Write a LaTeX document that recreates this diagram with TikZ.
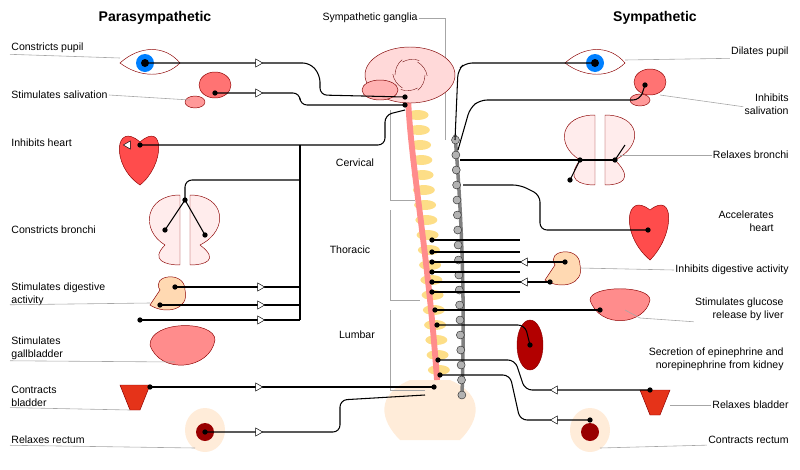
\documentclass[tikz,border=0pt]{standalone}
\usepackage{fontspec}
\setmainfont{Liberation Sans}
\usetikzlibrary{positioning,shapes.geometric,calc}
\tikzset{
	nerve/.style={draw=black,line width=0.9pt,rounded corners=6pt},
	lead/.style={draw=gray!70,line width=0.5pt},
	gang/.style={isosceles triangle,draw=black,fill=white,inner sep=0pt,minimum height=6pt,minimum width=6pt,isosceles triangle apex angle=60},
	dot/.style={circle,fill=black,inner sep=1.6pt},
	lbl/.style={font=\small,inner sep=1pt},
	organ/.style={draw=red!55!black,line width=0.4pt},
	head/.style={font=\large\bfseries}}
\begin{document}
\begin{tikzpicture}[x=0.03cm,y=-0.03cm]
	\useasboundingbox (0,0) rectangle (800,470);
	% headings
	\node[head] (hp) at (155,18) {Parasympathetic};
	\node[head] (hs) at (655,18) {Sympathetic};
	\node[lbl] (sg) at (370,18) {Sympathetic ganglia};
	\draw[lead] (sg.east) -- (445,18) -- (445,140);
	% brain, cord, vertebrae, pelvis
	\fill[orange!15] (400,440) .. controls (380,420) and (375,395) .. (410,380) -- (450,380) .. controls (485,395) and (480,420) .. (460,440) -- cycle;
	\foreach \y in {115,130,...,375}
		\fill[yellow!50!orange!45] ($(408,\y)+(\y/12,0)$) ellipse (11 and 5);
	\draw[red!45,line width=5pt] (408,95) .. controls (410,160) and (428,250) .. (437,380);
	\fill[pink!60,draw=red!50!black] (410,75) ellipse (45 and 28);
	\foreach \a in {0,60,...,300}
		\draw[red!40!black,line width=0.3pt] (410,75) ++(\a:15) arc (\a:\a+50:20);
	\fill[red!30,draw=red!50!black] (380,90) ellipse (18 and 10);
	% ganglia chain
	\draw[gray,line width=3pt] (455,135) .. controls (462,220) and (465,300) .. (462,395);
	\foreach \y in {140,155,...,395}
		\fill[gray!60,draw=gray!40!black] ($(455,\y)+(\y/40-3,0)$) circle (4);
	\node[lbl] (cerv) at (355,163) {Cervical};
	\node[lbl] (thor) at (350,250) {Thoracic};
	\node[lbl] (lumb) at (357,335) {Lumbar};
	\draw[lead] (390,110) -- (390,200) -- (415,200);
	\draw[lead] (390,210) -- (390,300) -- (420,300);
	\draw[lead] (390,310) -- (390,390) -- (425,390);
	% organs left
	\draw[organ,fill=white] (120,63) .. controls (140,45) and (165,45) .. (180,63) .. controls (165,78) and (140,78) .. cycle;
	\fill[blue!50!cyan] (145,63) circle (9); \fill[black] (145,63) circle (4);
	\fill[red!55,organ] (215,85) ellipse (16 and 13);
	\fill[red!40,organ] (195,102) ellipse (10 and 6);
	\fill[red!70,organ] (140,142) .. controls (115,120) and (110,165) .. (140,185) .. controls (165,165) and (165,120) .. (140,142);
	\fill[pink!30,organ] (165,245) .. controls (140,230) and (145,195) .. (180,195) -- (180,265) .. controls (165,265) and (150,260) .. (165,245);
	\fill[pink!30,organ] (200,245) .. controls (230,230) and (225,195) .. (190,195) -- (190,265) .. controls (205,265) and (220,260) .. (200,245);
	\fill[orange!30,organ] (160,290) .. controls (150,275) and (185,270) .. (185,290) .. controls (190,310) and (165,315) .. (150,305) -- cycle;
	\fill[red!45,organ] (150,345) .. controls (150,320) and (215,320) .. (215,340) .. controls (210,370) and (160,375) .. cycle;
	\fill[red!60!brown,organ] (120,385) -- (150,385) -- (140,410) -- (130,410) -- cycle;
	\fill[orange!15] (205,430) ellipse (20 and 22);
	\fill[red!60!black] (205,432) circle (9);
	% organs right
	\draw[organ,fill=white] (565,63) .. controls (585,45) and (610,45) .. (625,63) .. controls (610,78) and (585,78) .. cycle;
	\fill[blue!50!cyan] (595,63) circle (9); \fill[black] (595,63) circle (4);
	\fill[red!55,organ] (650,82) ellipse (16 and 13);
	\fill[red!40,organ] (640,100) ellipse (10 and 6);
	\fill[pink!30,organ] (580,160) .. controls (555,145) and (560,115) .. (595,115) -- (595,185) .. controls (580,185) and (565,180) .. (580,160);
	\fill[pink!30,organ] (615,160) .. controls (645,145) and (640,115) .. (605,115) -- (605,185) .. controls (620,185) and (635,180) .. (615,160);
	\fill[red!70,organ] (650,210) .. controls (625,190) and (620,235) .. (650,260) .. controls (675,235) and (675,190) .. (650,210);
	\fill[orange!30,organ] (555,265) .. controls (545,250) and (580,245) .. (580,265) .. controls (585,285) and (560,290) .. (545,280) -- cycle;
	\fill[red!45,organ] (590,300) .. controls (590,285) and (650,285) .. (650,300) .. controls (645,325) and (600,330) .. cycle;
	\fill[red!70!black,organ] (530,345) ellipse (13 and 25);
	\fill[red!60!brown,organ] (640,390) -- (670,390) -- (660,415) -- (650,415) -- cycle;
	\fill[orange!15] (590,430) ellipse (20 and 22);
	\fill[red!60!black] (590,432) circle (9);
	% left labels
	\node[lbl,anchor=west] (l1) at (10,48) {Constricts pupil};
	\node[lbl,anchor=west] (l2) at (10,95) {Stimulates salivation};
	\node[lbl,anchor=west] (l3) at (10,143) {Inhibits heart};
	\node[lbl,anchor=west] (l4) at (10,230) {Constricts bronchi};
	\node[lbl,anchor=west,align=left] (l5) at (10,294) {Stimulates digestive\\activity};
	\node[lbl,anchor=west,align=left] (l6) at (10,348) {Stimulates\\gallbladder};
	\node[lbl,anchor=west,align=left] (l7) at (10,396) {Contracts\\bladder};
	\node[lbl,anchor=west] (l8) at (10,440) {Relaxes rectum};
	\draw[lead] (l1.south west) -- (120,58);
	\draw[lead] (l2.east) -- (190,100);
	\draw[lead] (l5.south west) ++(0,-2) -- (150,303);
	\draw[lead] (l6.south west) -- (175,362);
	\draw[lead] (l7.south west) -- (130,410);
	\draw[lead] (l8.south west) -- (195,448);
	% right labels
	\node[lbl,anchor=east] (r1) at (790,52) {Dilates pupil};
	\node[lbl,anchor=east,align=right] (r2) at (790,104) {Inhibits\\salivation};
	\node[lbl,anchor=east] (r3) at (790,155) {Relaxes bronchi};
	\node[lbl,anchor=east,align=right] (r4) at (775,221) {Accelerates\\heart};
	\node[lbl,anchor=east] (r5) at (790,270) {Inhibits digestive activity};
	\node[lbl,anchor=east,align=right] (r6) at (785,309) {Stimulates glucose\\release by liver};
	\node[lbl,anchor=east,align=right] (r7) at (785,359) {Secretion of epinephrine and\\norepinephrine from kidney};
	\node[lbl,anchor=east] (r8) at (790,405) {Relaxes bladder};
	\node[lbl,anchor=east] (r9) at (790,440) {Contracts rectum};
	\draw[lead] (r1.south west) -- (625,60);
	\draw[lead] (r2.south west) ++(0,-9) -- (660,95);
	\draw[lead] (r3.west) -- (620,155);
	\draw[lead] (r5.west) -- (580,268);
	\draw[lead] (r6.south west) -- (640,318) -- (625,310);
	\draw[lead] (r8.west) -- (670,405);
	\draw[lead] (r9.south west) -- (600,448);
	% parasympathetic nerves
	\draw[nerve] (145,63) -- (310,63) -- (320,75) -- (320,95) -- (405,97);
	\draw[nerve] (215,93) -- (300,93) -- (300,105) -- (405,105);
	\draw[nerve] (140,145) -- (385,145) -- (385,115) -- (405,110);
	\draw[nerve] (300,145) -- (300,320);
	\draw[nerve] (300,180) -- (185,180) -- (185,200);
	\draw[nerve] (185,200) -- (165,230); \draw[nerve] (185,200) -- (205,235);
	\draw[nerve] (175,287) -- (300,287);
	\draw[nerve] (160,305) -- (300,305);
	\draw[nerve] (140,320) -- (300,320);
	\draw[nerve] (150,387) -- (434,387);
	\draw[nerve] (205,432) -- (340,432) -- (340,400) -- (425,395);
	\foreach \x/\y in {145/63,215/93,140/145,185/200,165/230,205/235,175/287,160/305,140/320,150/387,205/432,405/97,405/105,434/387}
		\node[dot] at (\x,\y) {};
	\foreach \x/\y in {258/63,258/93,260/287,260/305,260/320,258/387,258/432}
		\node[gang,shape border rotate=0] at (\x,\y) {};
	\node[gang,shape border rotate=180] at (128,145) {};
	% sympathetic nerves
	\draw[nerve] (595,63) -- (465,63) -- (458,70) -- (455,140);
	\draw[nerve] (645,85) -- (640,100) -- (480,100) -- (470,108) -- (458,150);
	\draw[nerve] (460,160) -- (615,160);
	\draw[nerve] (580,160) -- (570,180); \draw[nerve] (615,160) -- (625,145);
	\draw[nerve] (463,185) -- (520,185) -- (540,195) -- (540,230) -- (648,230);
	\foreach \y in {240,252,262,272,282,292}
		\draw[nerve] (432,\y) -- (520,\y);
	\draw[nerve] (520,262) -- (565,262);
	\draw[nerve] (520,282) -- (550,282);
	\draw[nerve] (435,310) -- (600,310);
	\draw[nerve] (437,325) -- (525,325) -- (530,345);
	\draw[nerve] (438,360) -- (515,360) -- (525,390) -- (650,390);
	\draw[nerve] (440,375) -- (510,375) -- (520,420) -- (590,420);
	\foreach \x/\y in {595/63,645/85,615/160,580/160,570/180,648/230,565/262,550/282,600/310,530/345,650/390,590/420,
		432/240,432/252,432/262,432/272,432/282,432/292,435/310,437/325,438/360,440/375}
		\node[dot] at (\x,\y) {};
	\foreach \y in {262,282}
		\node[gang,shape border rotate=180] at (525,\y) {};
	\node[gang,shape border rotate=180] at (555,390) {};
	\node[gang,shape border rotate=180] at (555,420) {};
\end{tikzpicture}
\end{document}
